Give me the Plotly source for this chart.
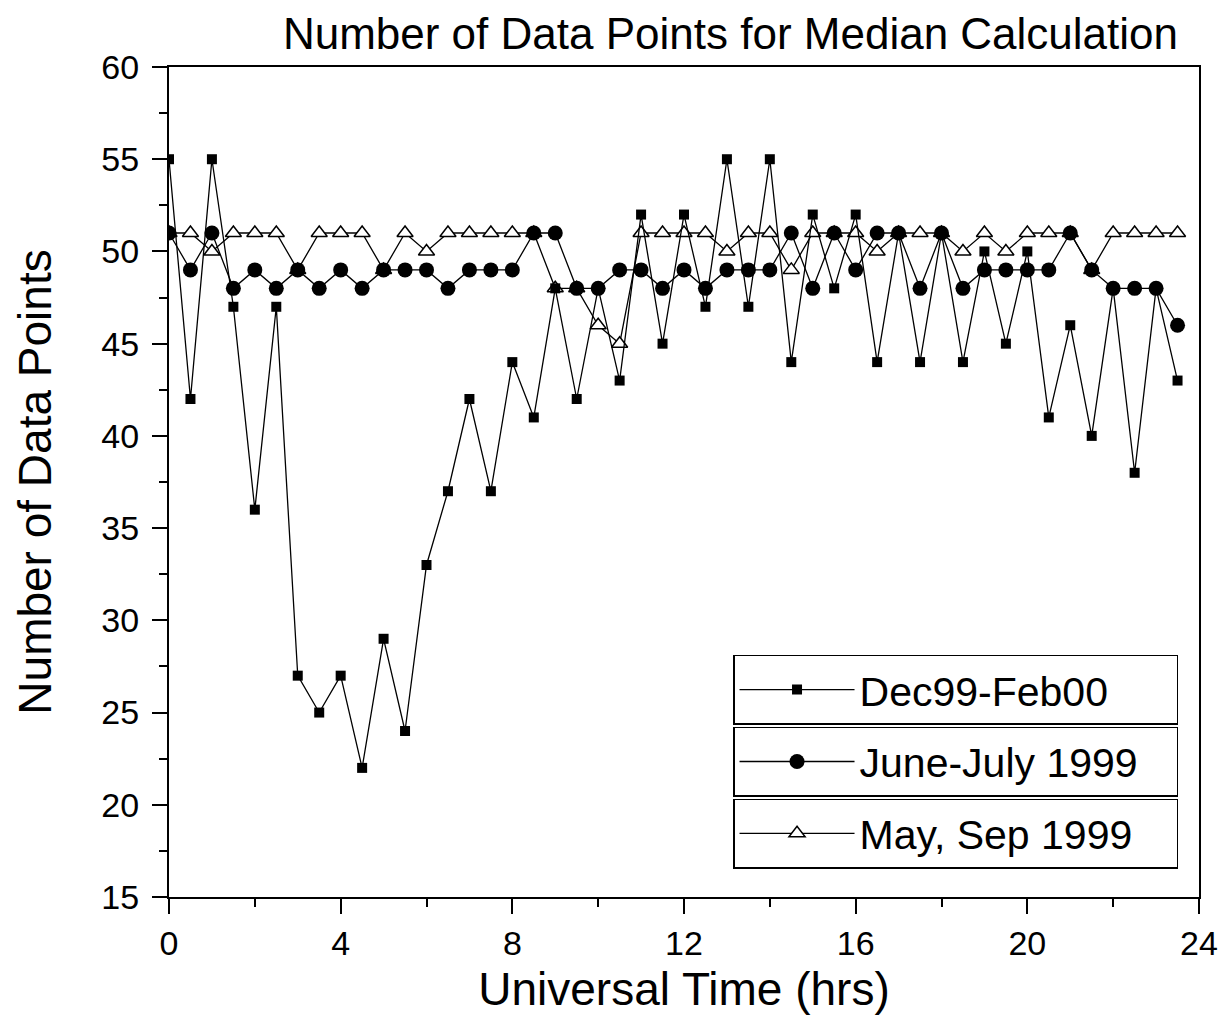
import plotly.graph_objects as go

hours = [0.0, 0.5, 1.0, 1.5, 2.0, 2.5, 3.0, 3.5, 4.0, 4.5,
         5.0, 5.5, 6.0, 6.5, 7.0, 7.5, 8.0, 8.5, 9.0, 9.5,
         10.0, 10.5, 11.0, 11.5, 12.0, 12.5, 13.0, 13.5, 14.0, 14.5,
         15.0, 15.5, 16.0, 16.5, 17.0, 17.5, 18.0, 18.5, 19.0, 19.5,
         20.0, 20.5, 21.0, 21.5, 22.0, 22.5, 23.0, 23.5]

dec99_feb00 = [55, 42, 55, 47, 36, 47, 27, 25, 27, 22,
               29, 24, 33, 37, 42, 37, 44, 41, 48, 42,
               48, 43, 52, 45, 52, 47, 55, 47, 55, 44,
               52, 48, 52, 44, 51, 44, 51, 44, 50, 45,
               50, 41, 46, 40, 48, 38, 48, 43]

june_july_1999 = [51, 49, 51, 48, 49, 48, 49, 48, 49, 48,
                  49, 49, 49, 48, 49, 49, 49, 51, 51, 48,
                  48, 49, 49, 48, 49, 48, 49, 49, 49, 51,
                  48, 51, 49, 51, 51, 48, 51, 48, 49, 49,
                  49, 49, 51, 49, 48, 48, 48, 46]

may_sep_1999 = [51, 51, 50, 51, 51, 51, 49, 51, 51, 51,
                49, 51, 50, 51, 51, 51, 51, 51, 48, 48,
                46, 45, 51, 51, 51, 51, 50, 51, 51, 49,
                51, 51, 51, 50, 51, 51, 51, 50, 51, 50,
                51, 51, 51, 49, 51, 51, 51, 51]

series_names = ["Dec99-Feb00", "June-July 1999", "May, Sep 1999"]

FONT = "Liberation Sans, Arial, sans-serif"

fig = go.Figure()

# triangles drawn first (beneath the others)
fig.add_trace(go.Scatter(
    x=hours, y=may_sep_1999, name=series_names[2], mode="lines+markers",
    line=dict(color="black", width=1.3),
    marker=dict(symbol="triangle-up", size=14, color="white",
                line=dict(color="black", width=1.5)),
    legend="legend3", showlegend=True))
fig.add_trace(go.Scatter(
    x=hours, y=dec99_feb00, name=series_names[0], mode="lines+markers",
    line=dict(color="black", width=1.3),
    marker=dict(symbol="square", size=10, color="black"),
    legend="legend", showlegend=True))
fig.add_trace(go.Scatter(
    x=hours, y=june_july_1999, name=series_names[1], mode="lines+markers",
    line=dict(color="black", width=1.3),
    marker=dict(symbol="circle", size=15, color="black"),
    legend="legend2", showlegend=True))

leg_common = dict(
    xref="paper", yref="paper",
    xanchor="left", yanchor="top", x=0.5476,
    bgcolor="white", bordercolor="black", borderwidth=1.5,
    font=dict(family=FONT, size=41, color="black"),
    orientation="h", entrywidthmode="pixels", entrywidth=312, itemwidth=115,
)

# the page body adds an 8px offset, so the figure is 16px smaller than the window
fig.update_layout(
    width=1213, height=1007,
    showlegend=True,
    paper_bgcolor="white", plot_bgcolor="white",
    margin=dict(l=161, r=22, t=59, b=118, autoexpand=False),
    font=dict(family=FONT, color="black"),
    title=dict(text="Number of Data Points for Median Calculation",
               font=dict(family=FONT, size=44, color="black"),
               xref="container", x=0.5956, xanchor="center",
               yref="container", y=0.975, yanchor="middle"),
    legend=dict(y=0.2916, **leg_common),
    legend2=dict(y=0.205, **leg_common),
    legend3=dict(y=0.1185, **leg_common),
    xaxis=dict(
        range=[0, 24], tickmode="linear", tick0=0, dtick=4,
        ticks="outside", ticklen=15, tickwidth=2, tickcolor="black",
        minor=dict(dtick=2, ticks="outside", ticklen=8, tickwidth=2, tickcolor="black"),
        showline=True, linewidth=2, linecolor="black", mirror=True,
        showgrid=False, zeroline=False,
        tickfont=dict(family=FONT, size=34, color="black"),
        title=dict(text="Universal Time (hrs)", standoff=27,
                   font=dict(family=FONT, size=46, color="black")),
    ),
    yaxis=dict(
        range=[15, 60], tickmode="linear", tick0=15, dtick=5,
        ticks="outside", ticklen=15, tickwidth=2, tickcolor="black",
        minor=dict(dtick=2.5, ticks="outside", ticklen=8, tickwidth=2, tickcolor="black"),
        showline=True, linewidth=2, linecolor="black", mirror=True,
        showgrid=False, zeroline=False,
        ticklabelstandoff=6,
        tickfont=dict(family=FONT, size=34, color="black"),
        title=dict(text="Number of Data Points", standoff=35,
                   font=dict(family=FONT, size=46, color="black")),
    ),
)

fig.write_html("out.html")
